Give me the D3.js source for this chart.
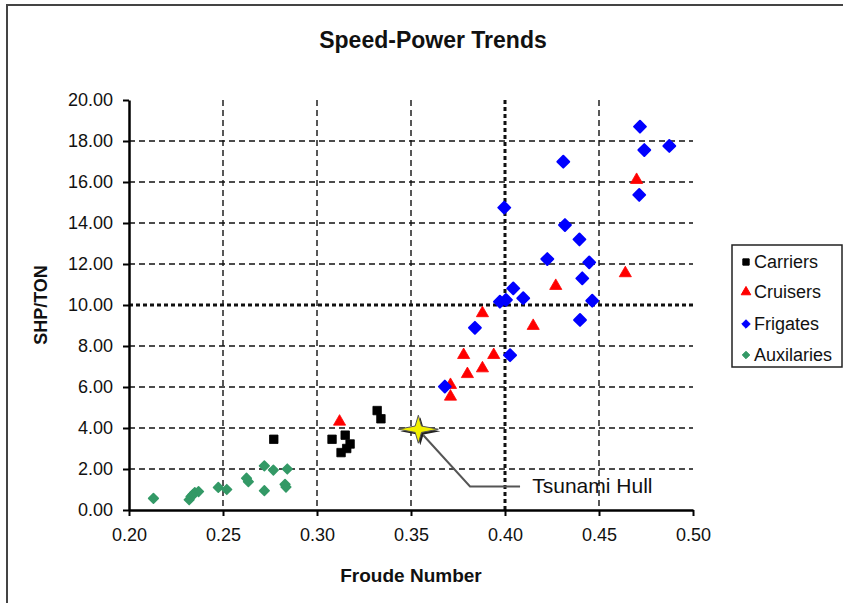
<!DOCTYPE html>
<html><head><meta charset="utf-8">
<script src="https://cdn.jsdelivr.net/npm/d3@7"></script>
<style>
html,body{margin:0;padding:0;background:#fff;}
svg{display:block;font-family:"Liberation Sans",Arial,sans-serif;}
</style></head>
<body>
<svg id="chart" width="843" height="603"></svg>
<script>
// ---- data ----
const xTicks = [0.20, 0.25, 0.30, 0.35, 0.40, 0.45, 0.50];
const yTicks = [0, 2, 4, 6, 8, 10, 12, 14, 16, 18, 20];

const carriersX = [0.277, 0.308, 0.315, 0.3128, 0.3158, 0.3176, 0.332, 0.334];
const carriersY = [3.45, 3.45, 3.65, 2.8, 3.0, 3.22, 4.85, 4.45];

const cruisersX = [0.312, 0.371, 0.371, 0.378, 0.380, 0.388, 0.388, 0.394, 0.415, 0.427, 0.464, 0.470];
const cruisersY = [4.31, 6.1, 5.53, 7.56, 6.63, 6.91, 9.6, 7.56, 8.98, 10.93, 11.55, 16.1];

const frigatesX = [0.368, 0.384, 0.3996, 0.3973, 0.4005, 0.4044, 0.4097, 0.4027, 0.4225, 0.431, 0.4319, 0.4396, 0.4411, 0.4399, 0.4448, 0.4464, 0.4714, 0.4718, 0.4741, 0.4874];
const frigatesY = [6.02, 8.89, 14.75, 10.16, 10.25, 10.81, 10.33, 7.55, 12.24, 16.99, 13.9, 13.2, 11.3, 9.27, 12.08, 10.21, 15.37, 18.70, 17.56, 17.76];

const auxX = [0.213, 0.232, 0.233, 0.234, 0.235, 0.237, 0.2475, 0.252, 0.2625, 0.2635, 0.272, 0.2768, 0.272, 0.2842, 0.283, 0.2835];
const auxY = [0.57, 0.5, 0.65, 0.75, 0.85, 0.9, 1.1, 1.0, 1.55, 1.38, 2.15, 1.95, 0.94, 2.0, 1.25, 1.12];

const hullX = [0.3539];
const hullY = [3.94];
const hullLabel = "Tsunami Hull";
// callout elbow and label anchor (data units)
const calloutX = [0.3814, 0.4080, 0.4145];
const calloutY = [1.15];

const seriesNames = ["Carriers", "Cruisers", "Frigates", "Auxilaries"];

// ---- chart ----
const svg = d3.select("#chart");
const x = d3.scaleLinear().domain([0.2, 0.5]).range([129, 693]);
const y = d3.scaleLinear().domain([0, 20]).range([510, 100]);

// outer frame
svg.append("rect").attr("x", 7).attr("y", 5).attr("width", 900).attr("height", 700)
  .attr("fill", "none").attr("stroke", "#444").attr("stroke-width", 2);

// title
svg.append("text").attr("x", 433).attr("y", 48).attr("text-anchor", "middle")
  .attr("font-size", 23).attr("font-weight", "bold").attr("fill", "#111").text("Speed-Power Trends");

// grid
const grid = svg.append("g");
xTicks.filter(v => v > 0.2 && v < 0.5).forEach(v => {
  const heavy = Math.abs(v - 0.40) < 1e-9;
  grid.append("line").attr("x1", x(v)).attr("x2", x(v)).attr("y1", y(20)).attr("y2", y(0))
    .attr("stroke", "#111").attr("stroke-width", heavy ? 3 : 1.4)
    .attr("stroke-dasharray", heavy ? "4,3" : "6,4");
});
yTicks.filter(v => v > 0 && v < 20).forEach(v => {
  const heavy = v === 10;
  grid.append("line").attr("x1", x(0.2)).attr("x2", x(0.5)).attr("y1", y(v)).attr("y2", y(v))
    .attr("stroke", "#111").attr("stroke-width", heavy ? 3 : 1.4)
    .attr("stroke-dasharray", heavy ? "4,3" : "6,4");
});

// axes
const yAxis = svg.append("g").attr("transform", `translate(${x(0.2)},0)`)
  .call(d3.axisLeft(y).tickValues(yTicks).tickFormat(d3.format(".2f")).tickSize(6).tickSizeOuter(0).tickPadding(10));
const xAxis = svg.append("g").attr("transform", `translate(0,${y(0)})`)
  .call(d3.axisBottom(x).tickValues(xTicks).tickFormat(d3.format(".2f")).tickSize(6).tickSizeOuter(0).tickPadding(12));
[yAxis, xAxis].forEach(a => {
  a.select(".domain").attr("stroke", "#000").attr("stroke-width", 2.5);
  a.selectAll(".tick line").attr("stroke", "#000").attr("stroke-width", 2);
  a.selectAll(".tick text").attr("font-size", 18).attr("fill", "#111")
    .attr("font-family", "Liberation Sans, Arial, sans-serif");
});

// axis titles
svg.append("text").attr("x", 411).attr("y", 582).attr("text-anchor", "middle")
  .attr("font-size", 19).attr("font-weight", "bold").attr("fill", "#111").text("Froude Number");
svg.append("text").attr("transform", "translate(47,305) rotate(-90)").attr("text-anchor", "middle")
  .attr("font-size", 18).attr("font-weight", "bold").attr("fill", "#111").text("SHP/TON");

// symbols
const squareDiamond = {
  draw(ctx, size) {
    const r = Math.sqrt(size / 2);
    ctx.moveTo(0, -r); ctx.lineTo(r, 0); ctx.lineTo(0, r); ctx.lineTo(-r, 0); ctx.closePath();
  }
};
const sq = d3.symbol().type(d3.symbolSquare);
const tri = d3.symbol().type(d3.symbolTriangle);

const series = [
  {name: seriesNames[0], xs: carriersX, ys: carriersY, gen: sq.size(72), color: "#000000", sw: 0.8},
  {name: seriesNames[1], xs: cruisersX, ys: cruisersY, gen: tri.size(64), color: "#ff0000", sw: 0.8},
  {name: seriesNames[2], xs: frigatesX, ys: frigatesY, gen: d3.symbol().type(squareDiamond).size(70), color: "#0000ff", sw: 2},
  {name: seriesNames[3], xs: auxX, ys: auxY, gen: d3.symbol().type(squareDiamond).size(46), color: "#339966", sw: 1.6}
];
const pts = svg.append("g");
series.forEach(s => {
  pts.selectAll(null).data(s.xs.map((v, i) => [v, s.ys[i]])).enter().append("path")
    .attr("d", s.gen())
    .attr("transform", d => `translate(${x(d[0])},${y(d[1])})`)
    .attr("fill", s.color)
    .attr("stroke", s.color).attr("stroke-width", s.sw)
    .attr("stroke-linejoin", "round");
});

// Tsunami Hull callout
const hx = x(hullX[0]), hy = y(hullY[0]);
svg.append("polyline")
  .attr("points", `${hx + 5},${hy + 6} ${x(calloutX[0])},${y(calloutY[0])} ${x(calloutX[1])},${y(calloutY[0])}`)
  .attr("fill", "none").attr("stroke", "#555").attr("stroke-width", 2);
svg.append("text").attr("x", x(calloutX[2])).attr("y", y(calloutY[0]) + 7).attr("font-size", 21)
  .attr("fill", "#111").text(hullLabel);

function starPath(rx, ry, ri) {
  const p = [];
  for (let i = 0; i < 8; i++) {
    const a = i * Math.PI / 4;
    const outer = i % 2 === 0;
    p.push([(outer ? rx : ri) * Math.cos(a), (outer ? ry : ri) * Math.sin(a)]);
  }
  return "M" + p.map(d => d.join(",")).join("L") + "Z";
}
svg.append("path").attr("d", starPath(20, 14, 4.5))
  .attr("transform", `translate(${hx + 2},${hy + 2})`).attr("fill", "#222");
svg.append("path").attr("d", starPath(20, 14, 4.5))
  .attr("transform", `translate(${hx},${hy})`)
  .attr("fill", "#f2f000").attr("stroke", "#555").attr("stroke-width", 1);

// legend
const lg = svg.append("g");
lg.append("rect").attr("x", 732).attr("y", 245).attr("width", 110).attr("height", 122)
  .attr("fill", "#fff").attr("stroke", "#222").attr("stroke-width", 1.5);
const legendRows = [262, 292, 324, 355];
const legendGens = [sq.size(40), tri.size(40), d3.symbol().type(squareDiamond).size(36), d3.symbol().type(squareDiamond).size(28)];
series.forEach((s, i) => {
  lg.append("path").attr("d", legendGens[i]()).attr("transform", `translate(746,${legendRows[i]})`)
    .attr("fill", s.color).attr("stroke", s.color).attr("stroke-width", 1);
  lg.append("text").attr("x", 754).attr("y", legendRows[i]).attr("dominant-baseline", "central")
    .attr("font-size", 18).attr("fill", "#111").text(s.name);
});
</script>
</body></html>
